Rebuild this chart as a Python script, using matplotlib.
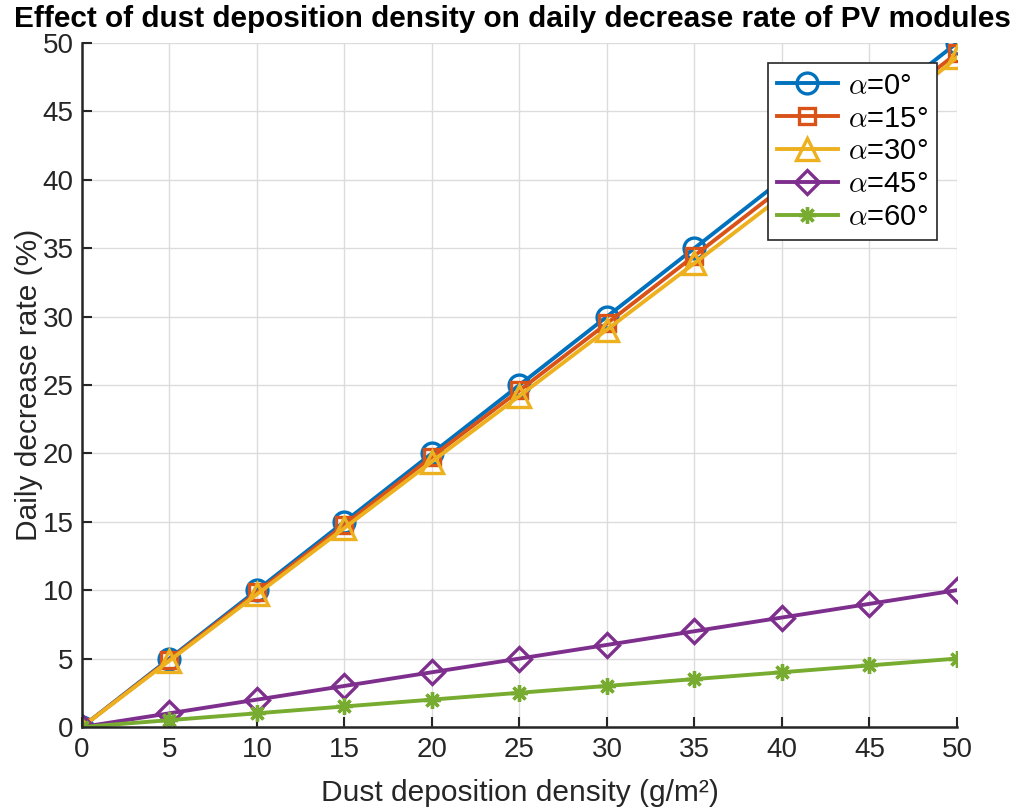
import matplotlib
matplotlib.use("Agg")
import matplotlib.pyplot as plt
from matplotlib import font_manager

density = [0, 5, 10, 15, 20, 25, 30, 35, 40, 45, 50]
rate_0 = [0, 5, 10, 15, 20, 25, 30, 35, 40, 45, 50]
rate_15 = [0, 4.93, 9.85, 14.78, 19.75, 24.6, 29.5, 34.45, 39.4, 44.3, 49.25]
rate_30 = [0, 4.85, 9.7, 14.55, 19.4, 24.2, 29.05, 33.9, 38.8, 43.65, 48.95]
rate_45 = [0, 1, 2, 3, 4, 5, 6, 7, 8, 9, 10]
rate_60 = [0, 0.5, 1, 1.5, 2, 2.5, 3, 3.5, 4, 4.5, 5]
labels = ['0°', '15°', '30°', '45°', '60°']
xticks = [0, 5, 10, 15, 20, 25, 30, 35, 40, 45, 50]
yticks = [0, 5, 10, 15, 20, 25, 30, 35, 40, 45, 50]

names = {f.name for f in font_manager.fontManager.ttflist}
base = 'Liberation Sans' if 'Liberation Sans' in names else 'DejaVu Sans'
title_font = 'Liberation Sans Narrow' if 'Liberation Sans Narrow' in names else base
plt.rcParams['font.family'] = [base, 'DejaVu Sans']
plt.rcParams['mathtext.fontset'] = 'cm'

colors = ['#0072BD', '#D95319', '#EDB120', '#7E2F8E', '#77AC30']
markers = ['o', 's', '^', 'D', (8, 2, 0)]
msizes = [15, 11, 16, 12, 12]
series = [rate_0, rate_15, rate_30, rate_45, rate_60]

fig = plt.figure(figsize=(10.16, 8.09), dpi=100)
ax = fig.add_axes([0.0807, 0.1014, 0.8612, 0.8455])

for s, c, m, ms, lab in zip(series, colors, markers, msizes, labels):
    ax.plot(density, s, color=c, lw=2.8, marker=m, markersize=ms,
            markerfacecolor='none' if m != markers[4] else c,
            markeredgecolor=c, markeredgewidth=2.4,
            label=r'$\alpha$=' + lab)

ax.set_xlim(0, 50)
ax.set_ylim(0, 50)
ax.set_xticks(xticks)
ax.set_yticks(yticks)
ax.tick_params(direction='in', length=7, width=1.5, labelsize=20, pad=7,
               colors='#262626')
ax.tick_params(axis='y', pad=6)
for sp in ['top', 'right']:
    ax.spines[sp].set_visible(False)
for sp in ['left', 'bottom']:
    ax.spines[sp].set_linewidth(1.8)
    ax.spines[sp].set_color('#262626')
ax.grid(True, color='#dcdcdc', lw=1.0)
ax.set_axisbelow(True)

ax.set_xlabel('Dust deposition density (g/m²)', fontsize=21.5, color='#262626', labelpad=12)
ax.set_ylabel('Daily decrease rate (%)', fontsize=21.5, color='#262626', labelpad=0)
fig.suptitle('Effect of dust deposition density on daily decrease rate of PV modules',
             fontsize=21.4, fontweight='bold', family=title_font,
             x=512 / 1016, y=1 - 19 / 809, va='center', ha='center')

leg = ax.legend(loc='upper right', bbox_to_anchor=(0.977, 0.971), fontsize=21,
                fancybox=False, framealpha=1, edgecolor='#262626',
                handlelength=2.1, borderpad=0.3, labelspacing=0.17,
                handletextpad=0.35, borderaxespad=0)
leg.get_frame().set_linewidth(1.2)

fig.savefig('out.png', dpi=100)
